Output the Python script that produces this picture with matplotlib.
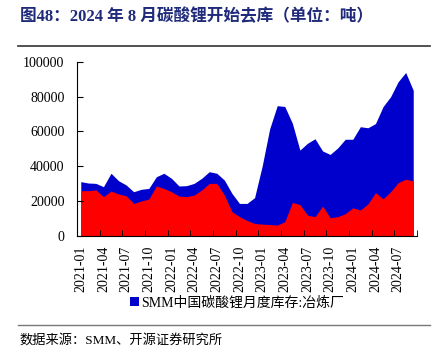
import matplotlib
matplotlib.use("Agg")
import matplotlib.pyplot as plt
from matplotlib.patches import Patch

plt.rcParams['font.family'] = ['Liberation Serif', 'Noto Sans CJK SC']

# monthly data 2021-01 .. 2024-09 (tons)
months = [f"{y}-{m:02d}" for y in range(2021, 2025) for m in range(1, 13)][:45]

total_stock = [31200, 30400, 30200, 28300, 36000, 31700, 29300, 25400, 26800, 27300,
               34000, 36000, 33100, 28700, 28900, 30200, 33100, 36900, 36000, 32100,
               24500, 18700, 18700, 22000, 40000, 61500, 74800, 74300, 64700, 49300,
               53200, 55800, 48800, 46800, 50500, 55500, 55500, 62700, 62100, 64500,
               74200, 79900, 88500, 93800, 83600]
smelter_stock = [26000, 26000, 26400, 22600, 25800, 24100, 23100, 18700, 20100, 21200,
                 28700, 27300, 25400, 22900, 22600, 23500, 26400, 30200, 30200, 23500,
                 14000, 11100, 8900, 7200, 6800, 6600, 6300, 8200, 19300, 18000,
                 12000, 11100, 17200, 10500, 11100, 12800, 16200, 14900, 18400, 24900,
                 21300, 25400, 30600, 32600, 31600]

legend_label = "SMM中国碳酸锂月度库存:冶炼厂"
title = "图48：2024 年 8 月碳酸锂开始去库（单位：吨）"
source = "数据来源：SMM、开源证券研究所"

blue = "#0000CC"
red = "#FF0000"
navy = "#1F2A7A"

fig = plt.figure(figsize=(4.38, 3.54), dpi=100)
ax = fig.add_axes([0.1758, 0.3333, 0.7763, 0.4924])

x = list(range(len(months)))
ax.fill_between(x, 0, total_stock, color=blue, linewidth=0)
ax.fill_between(x, 0, smelter_stock, color=red, linewidth=0)

ax.set_xlim(-0.5, len(months) - 0.5)
ax.set_ylim(0, 100000)
ax.set_yticks(range(0, 100001, 20000))

ax.set_xticks(x[::3])
ax.set_xticklabels(months[::3], rotation=90)
ax.set_xticks([i - 0.5 for i in range(0, len(months) + 1, 3)], minor=True)
ax.tick_params(axis='x', which='major', length=0, pad=7, labelsize=10)
ax.tick_params(axis='x', which='minor', direction='in', length=4)
ax.tick_params(axis='y', direction='in', length=4, pad=9, labelsize=10)

for s in ['top', 'right']:
    ax.spines[s].set_visible(False)

handle = Patch(facecolor=blue, edgecolor='none')
fig.legend([handle], [legend_label], loc='center', bbox_to_anchor=(0.54, 0.145),
           frameon=False, fontsize=10, handlelength=0.7, handleheight=0.7,
           handletextpad=0.1)

fig.text(0.045, 0.952, title, fontsize=12, fontweight='bold', color=navy,
         va='center', ha='left')
fig.add_artist(plt.Line2D([0.041, 0.982], [0.870, 0.870], color='#333333', linewidth=1.2))
fig.add_artist(plt.Line2D([0.041, 0.982], [0.082, 0.082], color='#777777', linewidth=1.0))
fig.text(0.045, 0.04, source, fontsize=9.5, va='center', ha='left')

fig.savefig("out.png", dpi=100)
